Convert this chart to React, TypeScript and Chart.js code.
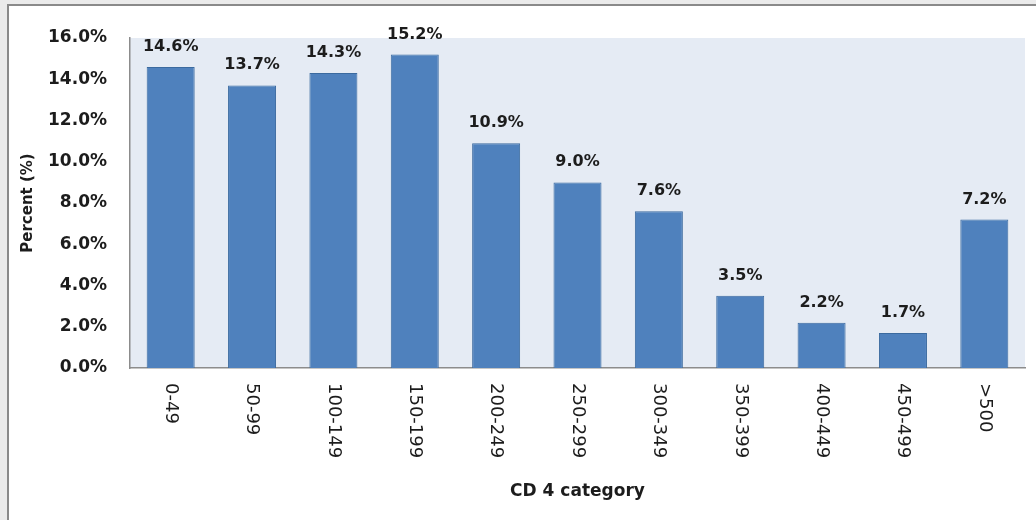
import React, { useEffect, useRef } from "react";
import { Chart, registerables } from "chart.js";

Chart.register(...registerables);

const categories: string[] = [
  "0-49", "50-99", "100-149", "150-199", "200-249", "250-299",
  "300-349", "350-399", "400-449", "450-499", ">500",
];
const percentValues: number[] = [14.6, 13.7, 14.3, 15.2, 10.9, 9.0, 7.6, 3.5, 2.2, 1.7, 7.2];
const yTickValues: number[] = [0, 2, 4, 6, 8, 10, 12, 14, 16];
const xTitle = "CD 4 category";
const yTitle = "Percent (%)";

const FONT = "'DejaVu Sans', sans-serif";
const TEXT = "#1c1c1c";

const framePlugin = {
  id: "frame",
  beforeDraw(chart: any) {
    const { ctx, width, height, chartArea } = chart;
    ctx.save();
    ctx.fillStyle = "#ffffff";
    ctx.fillRect(0, 0, width, height);
    ctx.fillStyle = "#ebebeb";
    ctx.fillRect(0, 0, 7, height);
    ctx.fillRect(0, 0, width, 4);
    ctx.strokeStyle = "#8a8a8a";
    ctx.lineWidth = 2;
    ctx.beginPath();
    ctx.moveTo(8, height);
    ctx.lineTo(8, 5);
    ctx.lineTo(width, 5);
    ctx.stroke();
    ctx.fillStyle = "#e5ebf4";
    ctx.fillRect(chartArea.left, chartArea.top, chartArea.right - chartArea.left, chartArea.bottom - chartArea.top);
    ctx.restore();
  },
};

const labelPlugin = {
  id: "labels",
  afterDatasetsDraw(chart: any) {
    const { ctx, chartArea } = chart;
    const meta = chart.getDatasetMeta(0);
    const xScale = chart.scales.x;
    ctx.save();
    ctx.fillStyle = TEXT;
    ctx.font = `bold 16px ${FONT}`;
    ctx.textAlign = "center";
    ctx.textBaseline = "alphabetic";
    meta.data.forEach((bar: any, i: number) => {
      ctx.fillText(percentValues[i].toFixed(1) + "%", bar.x, bar.y - 16);
    });
    ctx.font = `18px ${FONT}`;
    ctx.textAlign = "left";
    ctx.textBaseline = "middle";
    categories.forEach((c, i) => {
      const x = xScale.getPixelForValue(i);
      ctx.save();
      ctx.translate(x, chartArea.bottom + 15);
      ctx.rotate(Math.PI / 2);
      ctx.fillText(c, 0, 0);
      ctx.restore();
    });
    ctx.restore();
  },
};

export default function App() {
  const ref = useRef<HTMLCanvasElement | null>(null);
  useEffect(() => {
    if (!ref.current) return;
    const chart = new Chart(ref.current, {
      type: "bar",
      data: {
        labels: categories,
        datasets: [
          {
            data: percentValues,
            backgroundColor: "#4f81bd",
            borderColor: "#3b6a9f",
            borderWidth: 1,
            barPercentage: 0.59,
            categoryPercentage: 1,
          },
        ],
      },
      options: {
        responsive: false,
        animation: false,
        layout: { padding: { left: 0, top: 38, right: 11, bottom: 0 } },
        plugins: { legend: { display: false }, tooltip: { enabled: false } },
        scales: {
          x: {
            grid: { display: false, drawTicks: false },
            border: { display: true, color: "#8c8c8c", width: 1.5 },
            ticks: { display: false },
            title: {
              display: true,
              text: xTitle,
              color: TEXT,
              font: { family: FONT, size: 17, weight: "bold" },
              padding: { top: 0, bottom: 18 },
            },
            afterFit(scale: any) {
              scale.height = 152;
            },
          },
          y: {
            min: 0,
            max: 16,
            grid: { display: false, drawTicks: false },
            border: { display: true, color: "#8c8c8c", width: 1.5 },
            afterBuildTicks(scale: any) {
              scale.ticks = yTickValues.map((v) => ({ value: v }));
            },
            ticks: {
              padding: 23,
              color: TEXT,
              font: { family: FONT, size: 17, weight: "bold" },
              callback: (v: any) => Number(v).toFixed(1) + "%",
            },
            title: {
              display: true,
              text: yTitle,
              color: TEXT,
              font: { family: FONT, size: 15, weight: "bold" },
              padding: { top: 19, bottom: 0 },
            },
            afterFit(scale: any) {
              scale.width = 130;
            },
          },
        },
      },
      plugins: [framePlugin, labelPlugin],
    });
    return () => chart.destroy();
  }, []);
  return (
    <canvas
      ref={ref}
      width={1036}
      height={520}
      style={{ position: "fixed", left: 0, top: 0, width: 1036, height: 520 }}
    />
  );
}
